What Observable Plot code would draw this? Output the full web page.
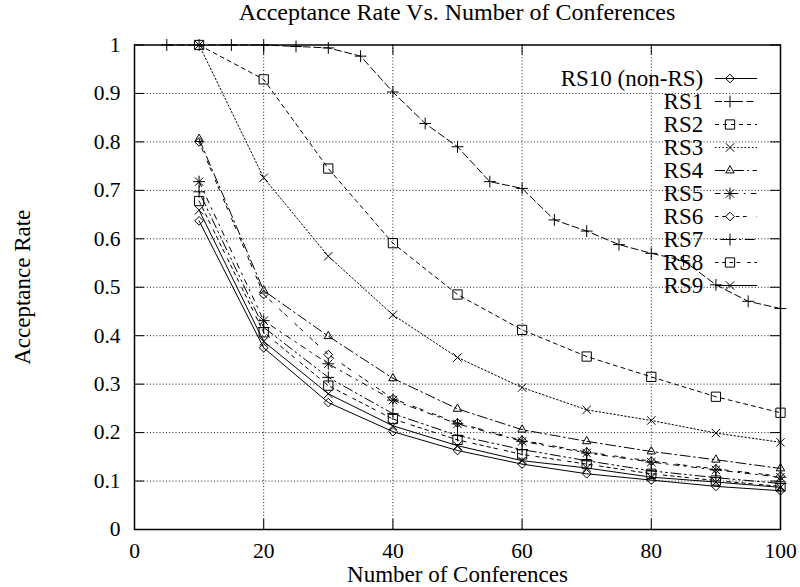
<!DOCTYPE html>
<html>
<head>
<meta charset="utf-8">
<script src="https://cdn.jsdelivr.net/npm/d3@7"></script>
<script src="https://cdn.jsdelivr.net/npm/@observablehq/plot@0.6"></script>
<style>
  body { margin: 0; background: #fff; }
  #wrap { position: relative; width: 800px; height: 587px; font-family: "Liberation Serif", serif; color: #000; }
  #title { width: 800px; height: 24px; line-height: 24px; font-size: 24px; text-align: center;
           padding-left: 134px; padding-right: 20px; box-sizing: border-box; }
  #legend { position: absolute; left: 580px; top: 65.7px; }
  svg { display: block; }
</style>
</head>
<body>
<div id="wrap">
  <div id="title">Acceptance Rate Vs. Number of Conferences</div>
  <div id="chart"></div>
  <div id="legend"></div>
</div>
<script>
// Number of conferences sampled for each scheme (RS1 is sampled every 5)
const conferences = [10, 20, 30, 40, 50, 60, 70, 80, 90, 100];
const conferencesRS1 = [5, 10, 15, 20, 25, 30, 35, 40, 45, 50, 55, 60, 65, 70, 75, 80, 85, 90, 95, 100];

// Acceptance rate per scheme
const rs10 = [0.637, 0.375, 0.262, 0.202, 0.163, 0.135, 0.115, 0.102, 0.089, 0.080];
const rs1  = [1.0, 1.0, 1.0, 1.0, 0.997, 0.994, 0.977, 0.903, 0.838, 0.790,
              0.718, 0.704, 0.639, 0.616, 0.588, 0.570, 0.555, 0.505, 0.471, 0.456];
const rs2  = [1.0, 0.929, 0.745, 0.591, 0.485, 0.412, 0.357, 0.315, 0.274, 0.241];
const rs3  = [1.0, 0.726, 0.564, 0.443, 0.355, 0.293, 0.247, 0.225, 0.199, 0.180];
const rs4  = [0.806, 0.493, 0.399, 0.312, 0.249, 0.206, 0.182, 0.161, 0.144, 0.126];
const rs5  = [0.718, 0.431, 0.342, 0.267, 0.218, 0.182, 0.158, 0.139, 0.123, 0.108];
const rs6  = [0.800, 0.485, 0.361, 0.270, 0.220, 0.184, 0.160, 0.141, 0.125, 0.110];
const rs7  = [0.697, 0.417, 0.314, 0.239, 0.194, 0.165, 0.142, 0.121, 0.107, 0.095];
const rs8  = [0.678, 0.407, 0.297, 0.228, 0.185, 0.155, 0.135, 0.115, 0.101, 0.089];
const rs9  = [0.659, 0.388, 0.280, 0.214, 0.173, 0.142, 0.127, 0.108, 0.098, 0.087];

// Series names, in legend order
const seriesNames = ["RS10 (non-RS)", "RS1", "RS2", "RS3", "RS4", "RS5", "RS6", "RS7", "RS8", "RS9"];

// Axis ticks and their labels
const xTicks = [0, 20, 40, 60, 80, 100];
const xTickLabels = ["0", "20", "40", "60", "80", "100"];
const yTicks = [0, 0.1, 0.2, 0.3, 0.4, 0.5, 0.6, 0.7, 0.8, 0.9, 1];
const yTickLabels = ["0", "0.1", "0.2", "0.3", "0.4", "0.5", "0.6", "0.7", "0.8", "0.9", "1"];
const xGrid = [20, 40, 60, 80];
const yGrid = [0.1, 0.2, 0.3, 0.4, 0.5, 0.6, 0.7, 0.8, 0.9];

const seriesData = {
  "RS10 (non-RS)": [conferences, rs10],
  "RS1": [conferencesRS1, rs1],
  "RS2": [conferences, rs2],
  "RS3": [conferences, rs3],
  "RS4": [conferences, rs4],
  "RS5": [conferences, rs5],
  "RS6": [conferences, rs6],
  "RS7": [conferences, rs7],
  "RS8": [conferences, rs8],
  "RS9": [conferences, rs9]
};

// Line dash patterns and point symbols (gnuplot-like)
const styles = {
  "RS10 (non-RS)": {dash: null, symbols: ["diamond2"], r: 3.9},
  "RS1": {dash: "7,3.5", symbols: ["plus"], r: 3.9},
  "RS2": {dash: "4,4", symbols: ["square2"], r: 5.9},
  "RS3": {dash: "1.5,2.2", symbols: ["times"], r: 3.9},
  "RS4": {dash: "10,3.5,1.8,3.5", symbols: ["triangle2"], r: 4},
  "RS5": {dash: "5.4,5.4,1.8,5.4", symbols: ["plus", "times"], r: 3.9},
  "RS6": {dash: "3.6,3.6,3.6,10", symbols: ["diamond2"], r: 3.9},
  "RS7": {dash: "1.8,3.6,10,3.6,1.8,3.6", symbols: ["plus"], r: 3.9},
  "RS8": {dash: "3.6,3.6,3.6,3.6,3.6,3.6,3.6,7", symbols: ["square2"], r: 5.9},
  "RS9": {dash: null, symbols: ["times"], r: 3.9}
};

const rows = seriesNames.map(name => {
  const [xs, ys] = seriesData[name];
  return xs.map((x, i) => ({series: name, x, y: ys[i]}));
});

const width = 800, height = 563;
const marginLeft = 134, marginRight = 20, marginTop = 20.5, marginBottom = 58;
const plotW = width - marginLeft - marginRight;
const plotH = height - marginTop - marginBottom;
const tickLen = 10;
const gridStyle = {stroke: "#000", strokeOpacity: 1, strokeWidth: 0.9, strokeDasharray: "1,2.2"};

const seriesMarks = seriesNames.flatMap((name, k) => {
  const s = styles[name];
  const data = rows[k];
  return [
    Plot.line(data, {x: "x", y: "y", stroke: "#000", strokeWidth: 1, strokeDasharray: s.dash, curve: "linear"}),
    ...s.symbols.map(sym => Plot.dot(data, {x: "x", y: "y", symbol: () => sym, r: s.r, stroke: "#000", fill: "none", strokeWidth: 1}))
  ];
});

const chart = Plot.plot({
  width, height, marginLeft, marginRight, marginTop, marginBottom,
  x: {domain: [0, 100]},
  y: {domain: [0, 1]},
  symbol: {type: "identity"},
  style: {fontFamily: "'Liberation Serif', serif", fontSize: "21.5px", background: "#fff", color: "#000", overflow: "visible"},
  marks: [
    Plot.gridX(xGrid, gridStyle),
    Plot.gridY(yGrid, gridStyle),
    Plot.axisX(xTicks, {tickSize: 0, tickPadding: 13, label: null, fontSize: 21.5, tickFormat: (d, i) => xTickLabels[i]}),
    Plot.axisY(yTicks, {tickSize: 0, tickPadding: 14, label: null, fontSize: 21.5, tickFormat: (d, i) => yTickLabels[i]}),
    // inward tick marks on all four sides
    Plot.ruleX(xTicks, {stroke: "#000", strokeWidth: 1, insetTop: plotH - tickLen}),
    Plot.ruleX(xTicks, {stroke: "#000", strokeWidth: 1, insetBottom: plotH - tickLen}),
    Plot.ruleY(yTicks, {stroke: "#000", strokeWidth: 1, insetRight: plotW - tickLen}),
    Plot.ruleY(yTicks, {stroke: "#000", strokeWidth: 1, insetLeft: plotW - tickLen}),
    ...seriesMarks,
    Plot.frame({stroke: "#000", strokeWidth: 1.5}),
    Plot.text(["Number of Conferences"], {frameAnchor: "bottom", dy: 52, textAnchor: "middle", lineAnchor: "bottom", fontSize: 23, fill: "#000"}),
    Plot.text(["Acceptance Rate"], {frameAnchor: "left", dx: -112, textAnchor: "middle", rotate: -90, fontSize: 23, fill: "#000"})
  ]
});
document.getElementById("chart").appendChild(chart);

// Key: right-aligned labels, a line sample and the point symbol
const keyTextEnd = 122.7, keyLineStart = 135, keyLineEnd = 177, keyMark = 149.5;
const keyMarks = seriesNames.flatMap(name => {
  const s = styles[name];
  return [
    Plot.ruleY([name], {y: d => d, x1: keyLineStart, x2: keyLineEnd, stroke: "#000", strokeWidth: 1, strokeDasharray: s.dash}),
    ...s.symbols.map(sym => Plot.dot([name], {y: d => d, x: keyMark, symbol: () => sym, r: s.r, stroke: "#000", fill: "none", strokeWidth: 1}))
  ];
});
const key = Plot.plot({
  width: 190, height: 232, margin: 0,
  x: {domain: [0, 190], axis: null},
  y: {type: "point", domain: seriesNames, range: [11, 11 + 9 * 23.2], padding: 0, axis: null},
  symbol: {type: "identity"},
  style: {fontFamily: "'Liberation Serif', serif", fontSize: "23px", background: "transparent", color: "#000", overflow: "visible"},
  marks: [
    Plot.text(seriesNames, {y: d => d, x: keyTextEnd, text: d => d, textAnchor: "end", fontSize: 23, fill: "#000"}),
    ...keyMarks
  ]
});
document.getElementById("legend").appendChild(key);
</script>
</body>
</html>
